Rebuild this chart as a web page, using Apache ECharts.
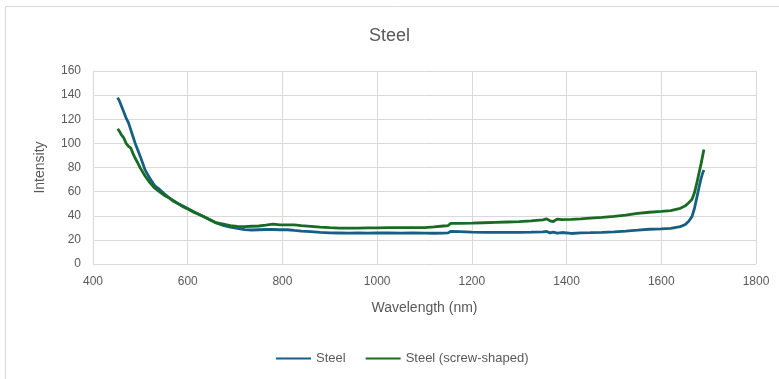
<!DOCTYPE html>
<html><head><meta charset="utf-8">
<script src="https://cdn.jsdelivr.net/npm/echarts@6/dist/echarts.min.js"></script>
<style>html,body{margin:0;padding:0;background:#fff}#c{width:779px;height:379px}</style>
</head><body><div id="c"></div>
<script>
const wavelengths = [452,456,460,465,470,475,480,485,490,495,500,510,520,530,540,550,560,570,580,590,600,615,630,645,660,675,690,705,720,735,750,765,780,795,810,825,840,860,880,900,920,940,960,980,1000,1025,1050,1075,1100,1120,1140,1150,1155,1175,1200,1225,1250,1275,1300,1325,1350,1358,1365,1372,1380,1390,1410,1430,1450,1475,1500,1525,1550,1575,1600,1620,1640,1650,1658,1665,1670,1675,1680,1684,1687,1690];
const steel = [138,135,131,126,121,117,111,105,99,94,89,78,71,65,62,58.5,55,52.5,50,48,46,43,40,37,34,32,30.5,29.5,28.5,28.2,28.4,28.6,28.6,28.4,28.4,27.8,27.3,26.8,26.2,25.8,25.7,25.6,25.7,25.6,25.7,25.7,25.6,25.7,25.6,25.5,25.6,25.8,27,26.8,26.5,26.3,26.2,26.2,26.3,26.4,26.6,27,25.8,26.4,25.6,26.1,25.3,25.8,26,26.3,26.7,27.3,28,28.8,29.2,29.6,31,32.5,35.5,39.5,46,55,64,71,75,78];
const steelScrew = [112,110,107,104.5,100,97.5,96,91,87,83.5,79.5,73,67.5,63,60,57,55,52,50,47.5,45.5,42.5,40,37,34.2,33,31.8,31.2,31,31.3,31.5,32.2,33,32.5,32.5,32.4,31.8,31.2,30.6,30.1,29.8,29.8,29.8,29.9,30,30.1,30.2,30.1,30.2,30.7,31.5,31.9,33.6,33.7,33.9,34.2,34.5,34.8,35.1,35.7,36.6,37.4,35.8,35.2,37.2,36.8,37,37.4,38,38.6,39.4,40.5,42,42.9,43.6,44.3,46.2,48,50.8,53.6,59,67,76,83,89,95];
const seriesNames = ['Steel','Steel (screw-shaped)'];
const seriesColors = ['#156082','#196B24'];

const chart = echarts.init(document.getElementById('c'), null, {renderer:'canvas'});
const font = 'Liberation Sans, Arial, sans-serif';
const txt = '#595959';
chart.setOption({
  animation:false,
  backgroundColor:'#fff',
  graphic:[{type:'rect',shape:{x:5.5,y:6.5,width:800,height:400},style:{fill:'none',stroke:'#d9d9d9',lineWidth:1},silent:true}],
  title:{text:'Steel',left:'center',top:22,textStyle:{fontFamily:font,fontSize:18,fontWeight:'normal',color:txt}},
  legend:{left:271,top:347,itemWidth:35,itemHeight:12,itemGap:20,
    textStyle:{fontFamily:font,fontSize:13,color:txt},
    data:seriesNames.map(n=>({name:n,icon:'path://M0,5 L35,5 L35,7 L0,7 Z'}))},
  grid:{left:93,right:23,top:71,bottom:115,containLabel:false},
  xAxis:{type:'value',min:400,max:1800,interval:200,
    name:'Wavelength (nm)',nameLocation:'middle',nameGap:37,
    nameTextStyle:{fontFamily:font,fontSize:14,color:txt},
    axisLine:{show:false},axisTick:{show:false},
    axisLabel:{fontFamily:font,fontSize:12,color:txt,margin:12,formatter:v=>String(v)},
    splitLine:{show:true,lineStyle:{color:'#d9d9d9',width:1}}},
  yAxis:{type:'value',min:0,max:160,interval:20,
    name:'Intensity',nameLocation:'middle',nameGap:46,nameRotate:90,
    nameTextStyle:{fontFamily:font,fontSize:14,color:txt},
    axisLine:{show:false},axisTick:{show:false},
    axisLabel:{fontFamily:font,fontSize:12,color:txt,margin:12,formatter:v=>String(v)},
    splitLine:{show:true,lineStyle:{color:'#d9d9d9',width:1}}},
  series:seriesNames.map((n,i)=>({
    name:n,type:'line',symbol:'none',smooth:false,
    data:wavelengths.map((w,k)=>[w,(i===0?steel:steelScrew)[k]]),
    lineStyle:{color:seriesColors[i],width:2.8},
    itemStyle:{color:seriesColors[i]}
  }))
});
</script></body></html>
